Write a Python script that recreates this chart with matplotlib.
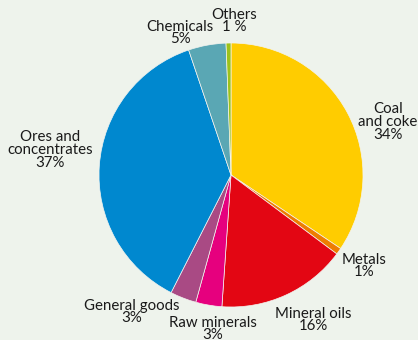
# pie chart of freight shares by commodity group

import matplotlib.pyplot as plt

categories = ['Coal\nand coke', 'Metals', 'Mineral oils', 'Raw minerals',
              'General goods', 'Ores and\nconcentrates', 'Chemicals', 'Others']
# slice sizes (in %)
shares = [34.4, 0.8, 15.9, 3.2, 3.2, 37.3, 4.6, 0.6]
pct_labels = ['34%', '1%', '16%', '3%', '3%', '37%', '5%', '1 %']
colors = ['#ffcc00', '#ee7d00', '#e30613', '#e6007e', '#a94a84',
          '#0088cf', '#5aa7b4', '#9dc21b']
# label anchor points, in pixels from the top left
label_pos = [(388, 122), (364, 266), (313, 320), (213, 329),
             (132, 312), (50, 150), (180, 33), (234, 21)]

bg = '#eef3ec'
plt.rcParams['font.family'] = ['Lato', 'DejaVu Sans']

fig = plt.figure(figsize=(4.18, 3.4), dpi=100)
fig.patch.set_facecolor(bg)
ax = fig.add_axes([0, 0, 1, 1])
ax.set_facecolor(bg)

ax.pie(shares, colors=colors, startangle=90, counterclock=False,
       center=(231, 165), radius=132,
       wedgeprops=dict(edgecolor='#f4f4f0', linewidth=0.5))

for name, pct, (x, y) in zip(categories, pct_labels, label_pos):
    ax.text(x, 340 - y, name + '\n' + pct, ha='center', va='center',
            fontsize=10.8, color='#1a1a1a', linespacing=0.88)

ax.set_xlim(0, 418)
ax.set_ylim(0, 340)
ax.set_aspect('equal')
ax.axis('off')

fig.savefig('out.png', dpi=100, facecolor=bg)
